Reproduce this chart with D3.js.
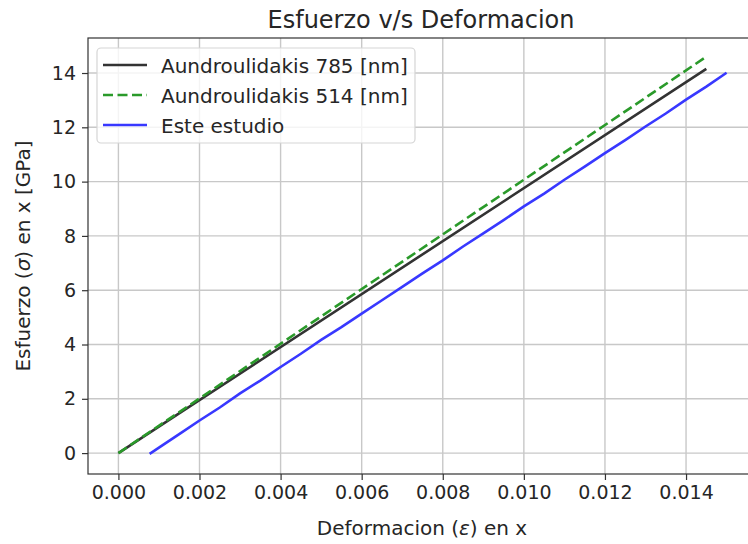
<!DOCTYPE html>
<html><head><meta charset="utf-8">
<script src="https://cdn.jsdelivr.net/npm/d3@7"></script>
<style>body{margin:0;background:#fff;} svg{display:block;} text{font-family:"DejaVu Sans",sans-serif;fill:#262626;}</style>
</head><body>
<script>
const title = "Esfuerzo v/s Deformacion";
const xTicks = [0, 0.002, 0.004, 0.006, 0.008, 0.010, 0.012, 0.014];
const yTicks = [0, 2, 4, 6, 8, 10, 12, 14];
const seriesNames = ["Aundroulidakis 785 [nm]", "Aundroulidakis 514 [nm]", "Este estudio"];
const blackX = [0, 0.00145, 0.0145];
const blackY = [0, 1.415, 14.15];
const greenX = [0, 0.00145, 0.0145];
const greenY = [0, 1.46, 14.6];
const blueX = [0.00077,0.0010,0.0015,0.0020,0.0025,0.0030,0.0035,0.0040,0.0045,0.0050,0.0055,0.0060,0.0065,0.0070,0.0075,0.0080,0.0085,0.0090,0.0095,0.0100,0.0105,0.0110,0.0115,0.0120,0.0125,0.0130,0.0135,0.0140,0.0145,0.0150];
const blueY = [-0.03,0.20,0.70,1.20,1.68,2.20,2.67,3.17,3.66,4.17,4.64,5.14,5.63,6.12,6.62,7.10,7.61,8.09,8.58,9.09,9.56,10.07,10.55,11.05,11.53,12.03,12.51,13.02,13.50,14.01];

const W = 748, H = 544;
const m = {left: 88, top: 38, right: 757, bottom: 474};
const svg = d3.select("body").append("svg").attr("width", W).attr("height", H);
const x = d3.scaleLinear().domain([-0.00075, 0.01575]).range([m.left, m.right]);
const y = d3.scaleLinear().domain([-0.77, 15.29]).range([m.bottom, m.top]);

// grid
svg.append("g").selectAll("line").data(xTicks).join("line")
  .attr("x1", d => x(d)).attr("x2", d => x(d)).attr("y1", m.top).attr("y2", m.bottom)
  .attr("stroke", "#c8c8c8").attr("stroke-width", 1.4);
svg.append("g").selectAll("line").data(yTicks).join("line")
  .attr("y1", d => y(d)).attr("y2", d => y(d)).attr("x1", m.left).attr("x2", m.right)
  .attr("stroke", "#c8c8c8").attr("stroke-width", 1.4);

// axes
const xAxis = d3.axisBottom(x).tickValues(xTicks).tickFormat(d3.format(".3f")).tickSize(6).tickPadding(6);
const yAxis = d3.axisLeft(y).tickValues(yTicks).tickFormat(d3.format("d")).tickSize(6).tickPadding(6);
const gx = svg.append("g").attr("transform", `translate(0,${m.bottom})`).call(xAxis);
const gy = svg.append("g").attr("transform", `translate(${m.left},0)`).call(yAxis);
[gx, gy].forEach(g => {
  g.select(".domain").remove();
  g.selectAll(".tick line").attr("stroke", "#333").attr("stroke-width", 1.2);
  g.selectAll(".tick text").attr("font-size", 19).attr("fill", "#333").style("font-family", "DejaVu Sans");
});

// lines
const line = d3.line().x(d => x(d[0])).y(d => y(d[1]));
const clip = svg.append("clipPath").attr("id", "clip").append("rect")
  .attr("x", m.left).attr("y", m.top).attr("width", m.right - m.left).attr("height", m.bottom - m.top);
const plot = svg.append("g").attr("clip-path", "url(#clip)");
const blackD = blackX.map((v, i) => [v, blackY[i]]);
const greenD = greenX.map((v, i) => [v, greenY[i]]);
const blueD = blueX.map((v, i) => [v, blueY[i]]);
plot.append("path").datum(blackD).attr("d", line).attr("fill", "none").attr("stroke", "#333333").attr("stroke-width", 2.6);
plot.append("path").datum(greenD).attr("d", line).attr("fill", "none").attr("stroke", "#2a9a2a").attr("stroke-width", 2.6).attr("stroke-dasharray", "10,4.5");
plot.append("path").datum(blueD).attr("d", line).attr("fill", "none").attr("stroke", "#3838ff").attr("stroke-width", 2.6);

// spines
svg.append("rect").attr("x", m.left).attr("y", m.top).attr("width", m.right - m.left).attr("height", m.bottom - m.top)
  .attr("fill", "none").attr("stroke", "#333").attr("stroke-width", 1.2);

// title and labels
svg.append("text").attr("x", 421).attr("y", 28).attr("text-anchor", "middle").attr("font-size", 24).text(title);
const xl = svg.append("text").attr("x", 422).attr("y", 535).attr("text-anchor", "middle").attr("font-size", 20);
xl.append("tspan").text("Deformacion (");
xl.append("tspan").attr("font-style", "italic").text("ε");
xl.append("tspan").text(") en x");
const yl = svg.append("text").attr("transform", `translate(30,${(m.top + m.bottom) / 2}) rotate(-90)`).attr("text-anchor", "middle").attr("font-size", 20);
yl.append("tspan").text("Esfuerzo (");
yl.append("tspan").attr("font-style", "italic").text("σ");
yl.append("tspan").text(") en x [GPa]");

// legend
const lg = svg.append("g");
lg.append("rect").attr("x", 97).attr("y", 48).attr("width", 318).attr("height", 95).attr("rx", 4)
  .attr("fill", "#fff").attr("fill-opacity", 0.8).attr("stroke", "#d5d5d5").attr("stroke-width", 1.2);
const lgStyles = [
  {c: "#333333", dash: null},
  {c: "#2a9a2a", dash: "10,4.5"},
  {c: "#3838ff", dash: null}
];
seriesNames.forEach((n, i) => {
  const yy = 65 + i * 30;
  lg.append("line").attr("x1", 103).attr("x2", 147).attr("y1", yy).attr("y2", yy)
    .attr("stroke", lgStyles[i].c).attr("stroke-width", 2.6).attr("stroke-dasharray", lgStyles[i].dash);
  lg.append("text").attr("x", 161).attr("y", yy + 8).attr("font-size", 20).text(n);
});
</script>
</body></html>
